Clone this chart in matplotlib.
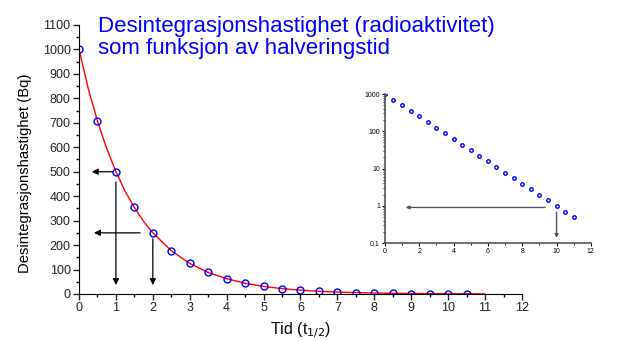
import numpy as np
import matplotlib.pyplot as plt
from matplotlib.ticker import MultipleLocator, FixedLocator, FixedFormatter

plt.rcParams['font.family'] = ['Liberation Sans', 'DejaVu Sans']

# main plot data (activity in Bq vs time in half-lives)
t_pts = [0, 0.5, 1, 1.5, 2, 2.5, 3, 3.5, 4, 4.5, 5, 5.5, 6, 6.5, 7, 7.5,
         8, 8.5, 9, 9.5, 10, 10.5]
a_pts = [1000, 707, 500, 354, 250, 177, 125, 88, 62.5, 44, 31, 22, 15.6,
         11, 7.8, 5.5, 3.9, 2.8, 2.0, 1.4, 1.0, 0.7]
t_curve = [0, 0.25, 0.5, 0.75, 1, 1.25, 1.5, 1.75, 2, 2.5, 3, 3.5, 4, 4.5,
           5, 5.5, 6, 6.5, 7, 8, 9, 10, 11]
a_curve = [1000, 841, 707, 595, 500, 420, 354, 297, 250, 177, 125, 88, 62.5,
           44, 31, 22, 15.6, 11, 7.8, 3.9, 2.0, 1.0, 0.5]

# inset (log scale) data
t_log = [0, 0.5, 1, 1.5, 2, 2.5, 3, 3.5, 4, 4.5, 5, 5.5, 6, 6.5, 7, 7.5,
         8, 8.5, 9, 9.5, 10, 10.5, 11]
a_log = [1000, 707, 500, 354, 250, 177, 125, 88, 62.5, 44, 31, 22, 15.6,
         11, 7.8, 5.5, 3.9, 2.8, 2.0, 1.4, 1.0, 0.7, 0.5]

fig = plt.figure(figsize=(6.34, 3.4), dpi=100)
ax = fig.add_axes([0.1246, 0.1353, 0.6987, 0.7912])

ax.plot(t_curve, a_curve, color='red', lw=1)
ax.plot(t_pts, a_pts, 'o', mfc='none', mec='blue', ms=5, mew=1)
ax.set_xlim(0, 12)
ax.set_ylim(0, 1100)
ax.xaxis.set_major_locator(MultipleLocator(1))
ax.xaxis.set_minor_locator(MultipleLocator(0.5))
ax.yaxis.set_major_locator(MultipleLocator(100))
ax.yaxis.set_minor_locator(MultipleLocator(50))
for s in ['top', 'right']:
    ax.spines[s].set_visible(False)
ax.tick_params(labelsize=9, length=4, width=1, pad=2, colors='#222222')
ax.tick_params(which='minor', length=2.5, width=1)
ax.set_ylabel('Desintegrasjonshastighet (Bq)', fontsize=10.7)
ax.yaxis.set_label_coords(-0.105, 0.45)
ax.set_xlabel('Tid (t$_{1/2}$)', fontsize=11.5, labelpad=4)

arr = dict(arrowstyle='-|>', color='black', lw=0.9, mutation_scale=9)
ax.annotate('', xy=(0.27, 500), xytext=(1, 500), arrowprops=arr)
ax.annotate('', xy=(1, 25), xytext=(1, 470), arrowprops=arr)
ax.annotate('', xy=(0.33, 250), xytext=(1.73, 250), arrowprops=arr)
ax.annotate('', xy=(2, 25), xytext=(2, 237), arrowprops=arr)

fig.text(0.155, 0.953, 'Desintegrasjonshastighet (radioaktivitet)\nsom funksjon av halveringstid',
         color='blue', fontsize=16, va='top', ha='left', linespacing=1.05)

# inset
ins = fig.add_axes([0.607, 0.2853, 0.325, 0.4382])
ins.plot(t_log, a_log, 'o', mfc='none', mec='blue', ms=2.5, mew=1)
ins.set_yscale('log')
ins.set_xlim(0, 12)
ins.set_ylim(0.1, 1000)
ins.xaxis.set_major_locator(MultipleLocator(2))
ins.xaxis.set_minor_locator(MultipleLocator(1))
ins.yaxis.set_major_locator(FixedLocator([0.1, 1, 10, 100, 1000]))
ins.yaxis.set_major_formatter(FixedFormatter(['0,1', '1', '10', '100', '1000']))
for s in ['top', 'right']:
    ins.spines[s].set_visible(False)
for s in ['left', 'bottom']:
    ins.spines[s].set_color('#555555')
    ins.spines[s].set_linewidth(1.2)
ins.tick_params(labelsize=5, length=2, width=0.8, pad=1.5)
ins.tick_params(which='minor', length=1.2, width=0.6)
arr2 = dict(arrowstyle='-|>', color='#555555', lw=1, mutation_scale=5)
ins.annotate('', xy=(1.05, 0.9), xytext=(9.5, 0.9), arrowprops=arr2)
ins.annotate('', xy=(10, 0.115), xytext=(10, 0.8), arrowprops=arr2)

fig.savefig('out.png', dpi=100)
